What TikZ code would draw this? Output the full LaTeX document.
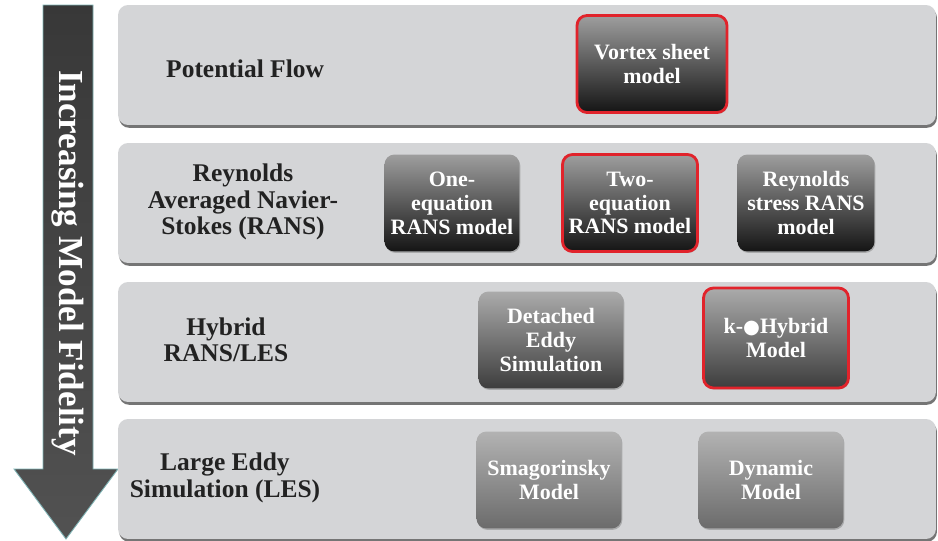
\documentclass[tikz,border=0pt]{standalone}
\usepackage{fontspec}
\setmainfont{Liberation Serif}
\newfontfamily\dotfont{DejaVu Sans}
\usetikzlibrary{positioning,shadows}

\definecolor{bandgray}{HTML}{D4D5D7}
\definecolor{pickred}{HTML}{E1232B}
\definecolor{arrowrim}{HTML}{7FB3B5}
\definecolor{labelink}{HTML}{222222}

\begin{document}
\begin{tikzpicture}[x=0.02cm, y=-0.02cm,
    band/.style={rectangle, rounded corners=0.2cm, fill=bandgray, inner sep=0pt,
      minimum width=16.36cm, minimum height=2.4cm,
      drop shadow={shadow xshift=0.6pt, shadow yshift=-1.6pt, fill=black!60, opacity=0.9}},
    bandlabel/.style={text=labelink, align=center, font=\bfseries\fontsize{14.5}{15}\selectfont},
    model/.style={rectangle, rounded corners=0.2cm, inner sep=0pt, align=center,
      minimum width=2.9cm, minimum height=1.94cm, text=white,
      font=\bfseries\fontsize{12.5}{13.6}\selectfont,
      drop shadow={shadow xshift=0.5pt, shadow yshift=-0.8pt, fill=black!50, opacity=0.5}},
    darkmodel/.style={model, top color=black!38, bottom color=black!92},
    midmodel/.style={model, top color=black!33, bottom color=black!76},
    lightmodel/.style={model, top color=black!30, bottom color=black!58},
    chosen/.style={draw=pickred, line width=1.6pt},
  ]
  \useasboundingbox[fill=white] (0,0) rectangle (938,541);
%
  % fidelity arrow
  \draw[arrowrim, line width=0.5pt, top color=black!78, middle color=black, bottom color=black!68]
    (43,5) -- (93,5) -- (93,469) -- (118,469) -- (66,539) -- (14,469) -- (43,469) -- cycle;
  \node[rotate=-90, text=white, font=\bfseries\fontsize{20}{20}\selectfont] (fidelity) at (68,263)
    {Increasing Model Fidelity};
%
  % bands
  \node[band] (pot)  at (527,65)  {};
  \node[band] (rans) at (527,203) {};
  \node[band] (hyb)  at (527,342) {};
  \node[band] (les)  at (527,479) {};
%
  \node[bandlabel, anchor=west] (potL) at (160,69) {Potential Flow};
  \node[bandlabel] (ransL) at (243,202) {Reynolds\\Averaged Navier-\\Stokes (RANS)};
  \node[bandlabel] (hybL)  at (226,340) {Hybrid\\RANS/LES};
  \node[bandlabel] (lesL)  at (225,478) {Large Eddy\\Simulation (LES)};
%
  % models
  \node[darkmodel, chosen, minimum width=3cm] (vortex) at (652,64) {Vortex sheet\\model};
%
  \node[darkmodel, minimum width=2.7cm] (oneEq) at (452,203) {One-\\equation\\RANS model};
  \node[darkmodel, chosen, minimum width=2.7cm] (twoEq) at (630,203) {Two-\\equation\\RANS model};
  \node[darkmodel, minimum width=2.74cm] (rsm) at (806,203) {Reynolds\\stress RANS\\model};
%
  \node[midmodel] (des) at (551,340) {Detached\\Eddy\\Simulation};
  \node[midmodel, chosen, minimum height=2cm] (kHyb) at (776,338) {k-{\dotfont\fontsize{11}{11}\selectfont ●}Hybrid\\Model};
%
  \node[lightmodel] (smag) at (549,480) {Smagorinsky\\Model};
  \node[lightmodel] (dyn)  at (771,480) {Dynamic\\Model};
\end{tikzpicture}
\end{document}
